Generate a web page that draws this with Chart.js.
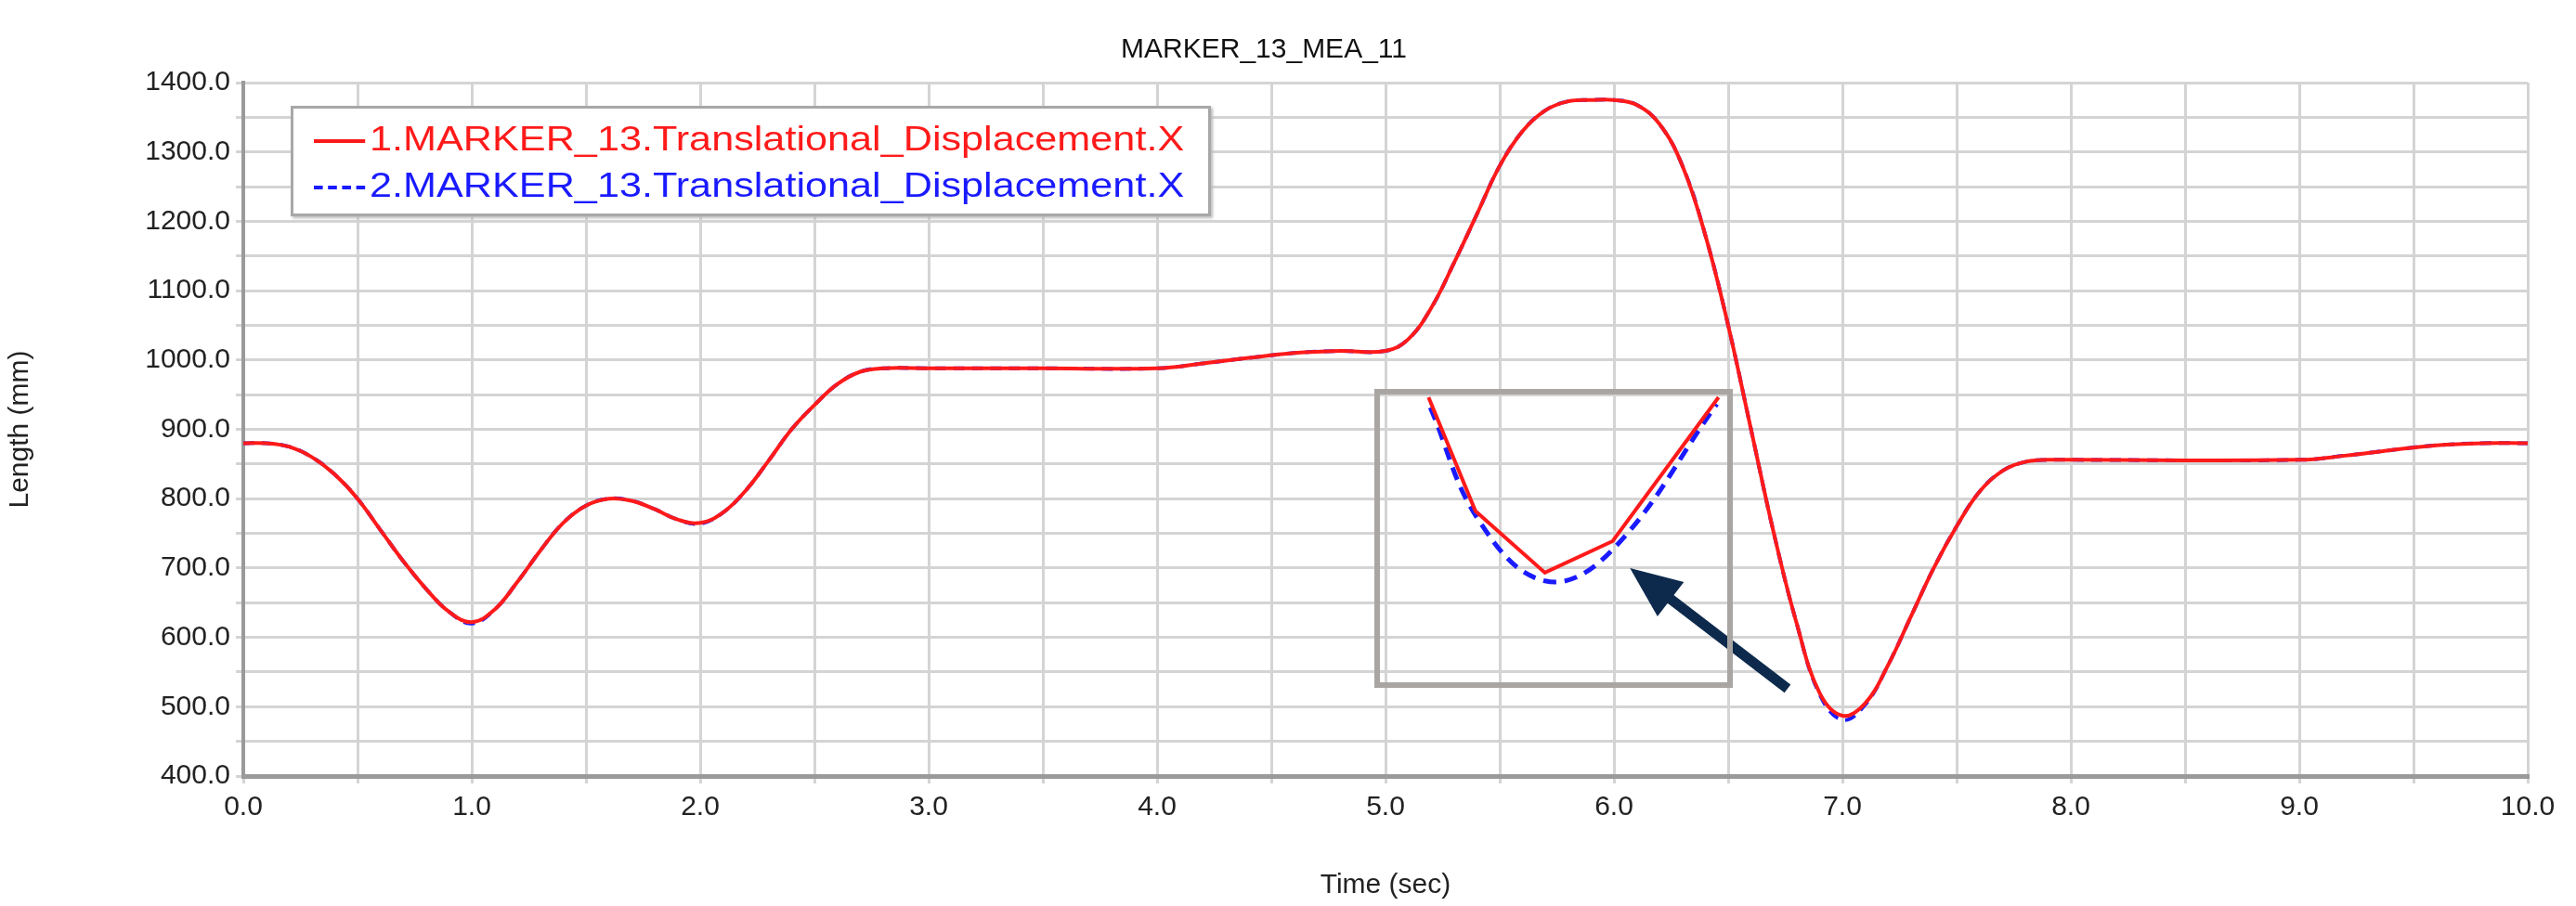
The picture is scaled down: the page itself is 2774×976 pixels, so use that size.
<!DOCTYPE html>
<html>
<head>
<meta charset="utf-8">
<script src="https://cdn.jsdelivr.net/npm/chart.js@4/dist/chart.umd.min.js"></script>
<style>
  body { margin: 0; background: #fff; }
  #wrap { position: relative; width: 2774px; height: 976px; }
  #legend { position: absolute; left: 313px; top: 114px; width: 985px; height: 113px;
    border: 3px solid #a8a8a8; background: #fff; font: 36px "Liberation Sans", Arial, sans-serif;
    box-shadow: 2px 2px 3px #bbb; z-index: 2; }
  .row { position: absolute; left: 22px; white-space: nowrap; transform: scaleX(1.2); transform-origin: left center; }
  .sw { display: inline-block; width: 46px; vertical-align: middle; margin-right: 4px; }
  #inset { position: absolute; border: 6px solid #a9a5a3; box-sizing: border-box; }
</style>
</head>
<body>
<div id="wrap">
  <canvas id="main" width="2774" height="976"></canvas>
  <div id="legend">
    <div class="row" style="top:12px;color:#ff1a1a"><span class="sw" style="border-top:4px solid #ff1a1a"></span>1.MARKER_13.Translational_Displacement.X</div>
    <div class="row" style="top:62px;color:#1a1aff"><span class="sw" style="border-top:4px dashed #1a1aff"></span>2.MARKER_13.Translational_Displacement.X</div>
  </div>
  <div id="inset"><canvas id="zoom"></canvas></div>
</div>
<script>
const times = [0,0.1,0.2,0.3,0.4,0.5,0.6,0.7,0.8,0.9,1.0,1.1,1.2,1.3,1.4,1.5,1.6,1.7,1.8,1.9,2.0,2.1,2.2,2.3,2.4,2.5,2.6,2.7,2.8,3.0,3.5,4.0,4.2,4.4,4.6,4.8,5.0,5.1,5.2,5.3,5.4,5.5,5.6,5.7,5.8,5.9,6.0,6.1,6.2,6.3,6.4,6.5,6.6,6.7,6.8,6.9,7.0,7.1,7.2,7.3,7.4,7.5,7.6,7.7,7.8,7.9,8.0,9.0,9.2,9.4,9.6,9.8,10.0];
const series1 = [880,880,875,860,835,800,755,710,670,637,622,640,680,725,765,790,800,797,785,770,765,780,812,855,900,935,965,983,988,988,988,988,995,1003,1010,1013,1013,1030,1075,1140,1210,1280,1330,1360,1373,1375,1375,1368,1340,1280,1180,1050,900,750,620,520,487,505,560,630,700,760,810,840,853,856,856,856,862,870,877,880,880];
const series2 = [880,880,875,860,835,800,755,710,670,637,620,640,680,725,765,790,800,797,785,770,764,780,812,855,900,935,965,983,988,988,988,988,995,1003,1010,1013,1013,1030,1075,1140,1210,1280,1330,1360,1373,1375,1375,1368,1340,1280,1180,1050,900,750,620,518,481,503,560,630,700,760,810,840,853,856,856,856,862,870,877,880,880];

// zoomed detail of the minimum near 7.0 s
const zoomTimes1 = [6.928,6.955,6.995,7.034,7.095];
const zoomValues1 = [519.6,503,494,498.6,519.6];
const zoomTimes2 = [6.929,6.957,6.995,7.033,7.094];
const zoomValues2 = [518.1,501.6,492.8,497.1,518.6];
const zoomBox = { x0: 4.95, x1: 6.52, yTop: 958, yBottom: 527 };
const arrowFrom = [6.76, 526], arrowTo = [6.07, 700];

const font = "Liberation Sans";
const pts = (xs, ys) => xs.map((x, i) => ({ x: x, y: ys[i] }));

const arrowPlugin = {
  id: 'arrow',
  afterDraw(chart) {
    const { ctx, scales: { x, y } } = chart;
    const x1 = x.getPixelForValue(arrowFrom[0]), y1 = y.getPixelForValue(arrowFrom[1]);
    const x2 = x.getPixelForValue(arrowTo[0]), y2 = y.getPixelForValue(arrowTo[1]);
    const a = Math.atan2(y2 - y1, x2 - x1);
    ctx.save();
    ctx.strokeStyle = ctx.fillStyle = '#0d2a4d';
    ctx.lineWidth = 11;
    ctx.beginPath();
    ctx.moveTo(x1, y1);
    ctx.lineTo(x2 - 40 * Math.cos(a), y2 - 40 * Math.sin(a));
    ctx.stroke();
    ctx.beginPath();
    ctx.moveTo(x2, y2);
    ctx.lineTo(x2 - 60 * Math.cos(a - 0.4), y2 - 60 * Math.sin(a - 0.4));
    ctx.lineTo(x2 - 60 * Math.cos(a + 0.4), y2 - 60 * Math.sin(a + 0.4));
    ctx.closePath();
    ctx.fill();
    ctx.restore();
  }
};

const main = new Chart(document.getElementById('main'), {
  type: 'line',
  data: {
    datasets: [
      { data: pts(times, series1), borderColor: '#ff1a1a', borderWidth: 4, pointRadius: 0, tension: 0.4 },
      { data: pts(times, series2), borderColor: '#1a1aff', borderWidth: 4, borderDash: [12, 8], pointRadius: 0, tension: 0.4 }
    ]
  },
  options: {
    responsive: false,
    animation: false,
    devicePixelRatio: 1,
    layout: { padding: { right: 52 } },
    plugins: {
      legend: { display: false },
      tooltip: { enabled: false },
      title: { display: true, text: 'MARKER_13_MEA_11', color: '#111',
        font: { family: font, size: 30, weight: 'normal' }, padding: { top: 36, bottom: 17 } }
    },
    scales: {
      x: {
        type: 'linear', min: 0, max: 10,
        afterFit: s => { s.height = 140; },
        ticks: { stepSize: 0.5, autoSkip: false, maxRotation: 0, color: '#222', padding: 8,
          font: { family: font, size: 30 },
          callback: v => Number.isInteger(v) ? v.toFixed(1) : '' },
        grid: { color: '#d4d4d4', lineWidth: 3, tickLength: 8 },
        border: { color: '#9a9a9a', width: 5 },
        title: { display: true, text: 'Time (sec)', color: '#222', font: { family: font, size: 30 }, padding: { top: 2 } }
      },
      y: {
        min: 400, max: 1400,
        afterFit: s => { s.width = 262; },
        ticks: { stepSize: 50, autoSkip: false, color: '#222', padding: 6,
          font: { family: font, size: 30 },
          callback: v => v % 100 === 0 ? v.toFixed(1) : '' },
        grid: { color: '#d4d4d4', lineWidth: 3, tickLength: 8 },
        border: { color: '#9a9a9a', width: 4 },
        title: { display: true, text: 'Length (mm)', color: '#222', font: { family: font, size: 30 }, padding: { bottom: 8 } }
      }
    }
  },
  plugins: [arrowPlugin]
});

// place inset over the main chart using its scales
const sx = main.scales.x, sy = main.scales.y;
const boxLeft = sx.getPixelForValue(zoomBox.x0), boxRight = sx.getPixelForValue(zoomBox.x1);
const boxTop = sy.getPixelForValue(zoomBox.yTop), boxBottom = sy.getPixelForValue(zoomBox.yBottom);
const inset = document.getElementById('inset');
inset.style.left = boxLeft + 'px'; inset.style.top = boxTop + 'px';
inset.style.width = (boxRight - boxLeft) + 'px'; inset.style.height = (boxBottom - boxTop) + 'px';
const zc = document.getElementById('zoom');
zc.width = Math.round(boxRight - boxLeft - 12); zc.height = Math.round(boxBottom - boxTop - 12);

new Chart(zc, {
  type: 'line',
  data: {
    datasets: [
      { data: pts(zoomTimes1, zoomValues1), borderColor: '#ff1a1a', borderWidth: 4, pointRadius: 0, tension: 0 },
      { data: pts(zoomTimes2, zoomValues2), borderColor: '#1a1aff', borderWidth: 5, borderDash: [14, 9], pointRadius: 0, tension: 0.4 }
    ]
  },
  options: {
    responsive: false, animation: false, devicePixelRatio: 1,
    plugins: { legend: { display: false }, tooltip: { enabled: false } },
    scales: {
      x: { type: 'linear', min: 6.9, max: 7.1, display: false },
      y: { min: 478, max: 520, display: false }
    }
  }
});
</script>
</body>
</html>
